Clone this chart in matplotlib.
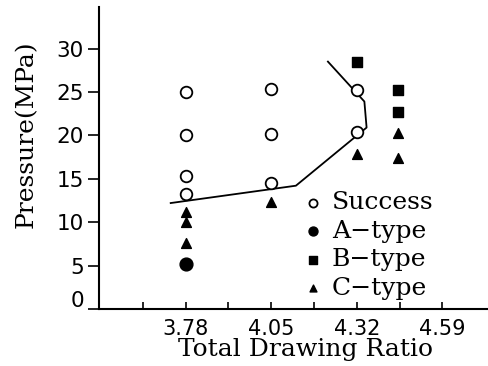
import matplotlib
matplotlib.use("Agg")
import matplotlib.pyplot as plt
from matplotlib.transforms import ScaledTranslation

# data
success_x = [3.78, 3.78, 3.78, 3.78, 4.05, 4.05, 4.05, 4.32, 4.32]
success_y = [25.0, 20.0, 15.3, 13.3, 25.3, 20.2, 14.5, 25.2, 20.4]
a_x = [3.78]
a_y = [5.2]
b_x = [4.32, 4.45, 4.45]
b_y = [28.5, 25.2, 22.7]
c_x = [3.78, 3.78, 3.78, 4.05, 4.32, 4.45, 4.45]
c_y = [11.2, 10.0, 7.6, 12.3, 17.8, 20.3, 17.4]
bound_x = [3.733, 4.128, 4.351, 4.344, 4.229]
bound_y = [12.2, 14.2, 20.9, 23.9, 28.5]

xticks = [3.78, 4.05, 4.32, 4.59]
yticks = [0, 5, 10, 15, 20, 25, 30]

lab_font = "DejaVu Serif"
num_font = "DejaVu Sans"

fig = plt.figure(figsize=(4.88, 3.66), dpi=100)
ax = fig.add_axes([0.203, 0.156, 0.797, 0.825])

ax.plot(bound_x, bound_y, color="black", lw=1.3)
ax.scatter(success_x, success_y, s=70, facecolors="white", edgecolors="black",
           linewidths=1.3, label="Success", zorder=3)
ax.scatter(a_x, a_y, s=85, marker="o", color="black", label="A\u2212type", zorder=3)
ax.scatter(b_x, b_y, s=52, marker="s", color="black", label="B\u2212type", zorder=3)
ax.scatter(c_x, c_y, s=50, marker="^", color="black", label="C\u2212type", zorder=3)

ax.set_xlim(3.507, 4.734)
ax.set_ylim(0, 34.8)
ax.set_xticks(xticks)
ax.set_xticklabels([f"{v:.2f}" for v in xticks])
ax.set_xticks([3.645, 3.915, 4.185, 4.455], minor=True)
ax.set_yticks(yticks)

for s in ("top", "right"):
    ax.spines[s].set_visible(False)
for s in ("left", "bottom"):
    ax.spines[s].set_linewidth(1.5)

ax.tick_params(axis="x", which="both", direction="in", length=5, width=1.2,
               labelsize=15, pad=7)
ax.tick_params(axis="y", direction="out", length=8, width=1.2, labelsize=15.5, pad=3)
for t in ax.get_xticklabels() + ax.get_yticklabels():
    t.set_family(num_font)

# the zero label sits a little above the x axis
zero = ax.get_yticklabels()[0]
zero.set_transform(zero.get_transform() + ScaledTranslation(0, 0.1, fig.dpi_scale_trans))

ax.set_xlabel("Total Drawing Ratio", fontsize=18, family=lab_font)
ax.set_ylabel("Pressure(MPa)", fontsize=18, family=lab_font)
ax.xaxis.set_label_coords(0.53, -0.095)
ax.yaxis.set_label_coords(-0.158, 0.58)

leg = ax.legend(loc="lower left", bbox_to_anchor=(0.48, -0.02), frameon=False,
                prop={"family": lab_font, "size": 18}, handletextpad=0.25,
                handlelength=1.0, labelspacing=0.22, borderaxespad=0.2,
                markerscale=0.7)

fig.savefig("out.png", dpi=100)
